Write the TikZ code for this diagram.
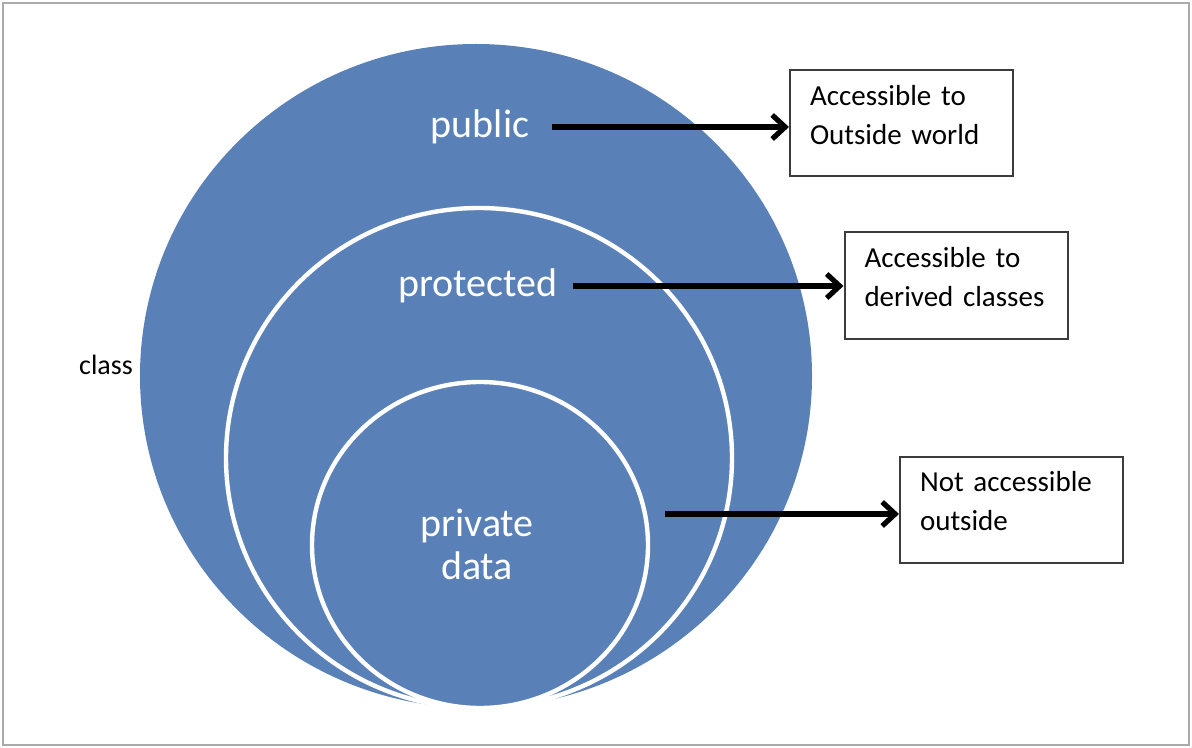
\documentclass[tikz,border=0pt]{standalone}
\usepackage{fontspec}
\setmainfont{Carlito}
\definecolor{clsblue}{RGB}{89,129,184}
\definecolor{frame}{RGB}{170,170,170}
\definecolor{boxline}{RGB}{60,60,60}
\usetikzlibrary{arrows.meta,positioning}

\begin{document}
\begin{tikzpicture}[x=0.5pt,y=-0.5pt,
  ring/.style={fill=clsblue,draw=white,line width=2.2pt},
  lvl/.style={text=white,font=\fontsize{20}{21.5}\selectfont,align=center},
  note/.style={draw=boxline,line width=1pt,minimum width=111.5pt,minimum height=53pt,
    text width=91.5pt,inner xsep=10pt,inner ysep=7pt,align=left,
    font=\fontsize{14.5}{19.5}\selectfont},
  arr/.style={-{Straight Barb[length=6.5pt,width=12pt]},line width=2.6pt}]
  \useasboundingbox (0,0) rectangle (1192,748);
  % Frame
  \draw[frame,line width=1pt] (3,3) rectangle (1189,745);
  % Circles
  \fill[clsblue] (476,376) ellipse [x radius=336,y radius=332];
  \draw[ring] (479,458) ellipse [x radius=253,y radius=250];
  \draw[ring] (480,545) ellipse [x radius=168,y radius=163];
  % Labels
  \node[lvl] (pub) at (480,127) {public};
  \node[lvl] (prot) at (478,286) {protected};
  \node[lvl] (priv) at (477,544) {private\\data};
  \node[font=\fontsize{14}{16}\selectfont] (cls) at (106,365) {class};
  % Boxes
  \node[note] (pubbox) at (901.5,123.5) {Accessible to\\Outside world\rule[-9pt]{0pt}{9pt}};
  \node[note] (protbox) at (956,285.5) {Accessible to\\derived classes\rule[-9pt]{0pt}{9pt}};
  \node[note] (privbox) at (1011.5,509.5) {Not accessible\\outside\rule[-9pt]{0pt}{9pt}};
  % Arrows
  \coordinate (privstart) at (665,514);
  \draw[arr] ([xshift=8pt]pub.east) -- (pubbox.west |- pub);
  \draw[arr] ([xshift=4pt]prot.east) -- (protbox.west |- prot);
  \draw[arr] (privstart) -- (privbox.west |- privstart);
\end{tikzpicture}
\end{document}
